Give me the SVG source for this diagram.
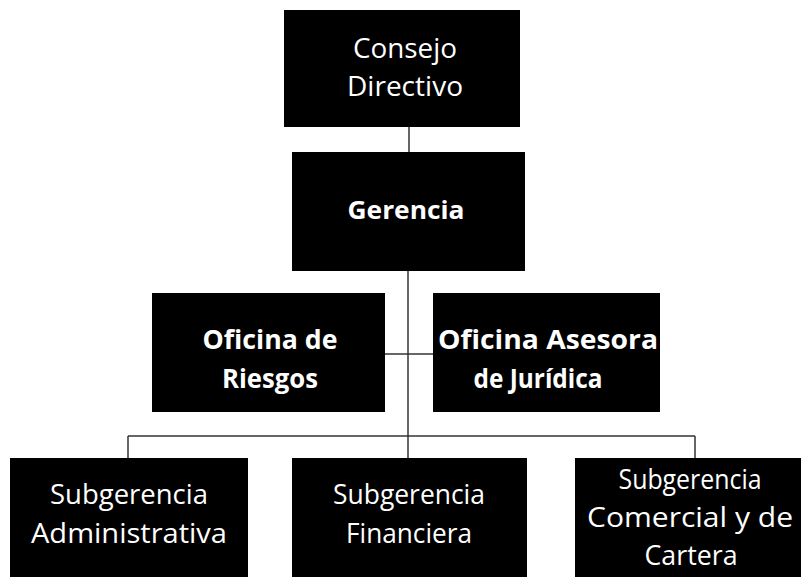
<svg xmlns="http://www.w3.org/2000/svg" width="801" height="579" viewBox="0 0 801 579">
<style>
.box{fill:#000;}
.t{fill:#fff;font-family:"Open Sans","Noto Sans",sans-serif;font-size:28px;text-anchor:middle;}
.b{font-weight:bold;font-size:27px;}
.c{stroke:#333;stroke-width:1.5;fill:none;}
</style>
<rect width="801" height="579" fill="#fff"/>
<g id="connectors">
<line class="c" x1="409" y1="127" x2="409" y2="152"/>
<line class="c" x1="408" y1="271" x2="408" y2="458"/>
<line class="c" x1="385" y1="354" x2="433" y2="354"/>
<line class="c" x1="128" y1="436" x2="695" y2="436"/>
<line class="c" x1="128" y1="436" x2="128" y2="458"/>
<line class="c" x1="695" y1="436" x2="695" y2="458"/>
</g>
<g id="consejo">
<rect class="box" x="284" y="10" width="236" height="117"/>
<text class="t" x="405" y="58" textLength="104" lengthAdjust="spacingAndGlyphs">Consejo</text>
<text class="t" x="405" y="96" textLength="116" lengthAdjust="spacingAndGlyphs">Directivo</text>
</g>
<g id="gerencia">
<rect class="box" x="292" y="152" width="233" height="119"/>
<text class="t b" x="406" y="219" style="font-size:25px" textLength="117" lengthAdjust="spacingAndGlyphs">Gerencia</text>
</g>
<g id="riesgos">
<rect class="box" x="152" y="293" width="233" height="119"/>
<text class="t b" x="270" y="349" textLength="135" lengthAdjust="spacingAndGlyphs">Oficina de</text>
<text class="t b" x="270" y="388" textLength="96" lengthAdjust="spacingAndGlyphs">Riesgos</text>
</g>
<g id="juridica">
<rect class="box" x="433" y="293" width="227" height="119"/>
<text class="t b" x="548" y="349" textLength="220" lengthAdjust="spacingAndGlyphs">Oficina Asesora</text>
<text class="t b" x="538" y="388" textLength="129" lengthAdjust="spacingAndGlyphs">de Jurídica</text>
</g>
<g id="administrativa">
<rect class="box" x="10" y="458" width="238" height="119"/>
<text class="t" x="129" y="504" textLength="158" lengthAdjust="spacingAndGlyphs">Subgerencia</text>
<text class="t" x="129" y="543" textLength="196" lengthAdjust="spacingAndGlyphs">Administrativa</text>
</g>
<g id="financiera">
<rect class="box" x="292" y="458" width="235" height="119"/>
<text class="t" x="409" y="504" textLength="152" lengthAdjust="spacingAndGlyphs">Subgerencia</text>
<text class="t" x="409" y="543" textLength="126" lengthAdjust="spacingAndGlyphs">Financiera</text>
</g>
<g id="comercial">
<rect class="box" x="575" y="458" width="226" height="119"/>
<text class="t" x="690" y="489" textLength="143" lengthAdjust="spacingAndGlyphs">Subgerencia</text>
<text class="t" x="690" y="527" textLength="206" lengthAdjust="spacingAndGlyphs">Comercial y de</text>
<text class="t" x="691" y="565" textLength="93" lengthAdjust="spacingAndGlyphs">Cartera</text>
</g>
</svg>
